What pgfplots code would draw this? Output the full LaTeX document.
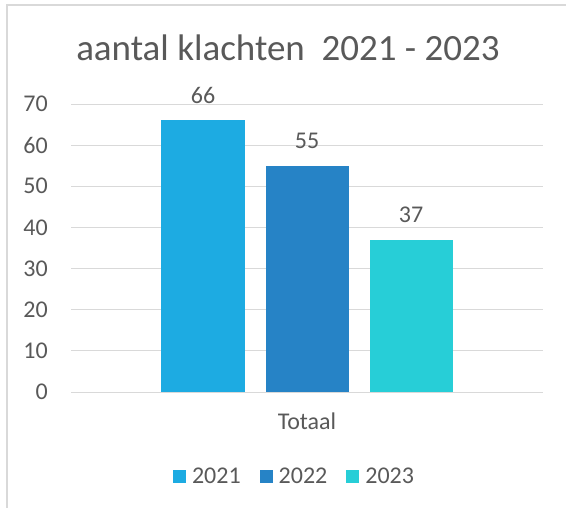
\documentclass[border=0pt]{standalone}
\usepackage{pgfplots}
\pgfplotsset{compat=1.18}
\usepackage{fontspec}
\setmainfont{Carlito}
\definecolor{cA}{HTML}{1DABE2}
\definecolor{cB}{HTML}{2683C6}
\definecolor{cC}{HTML}{27CED7}
\definecolor{txt}{HTML}{595959}
\definecolor{grd}{HTML}{D9D9D9}
\begin{document}
\begin{tikzpicture}
\path[use as bounding box] (0,0) rectangle (566bp,508bp);
\draw[grd, line width=1.5bp] (7bp,0) -- (7bp,503bp) -- (566bp,503bp);
\node[anchor=base, text=txt, inner sep=0pt, font=\fontsize{37bp}{44bp}\selectfont] at (288bp,447bp) {aantal klachten\ \ 2021 - 2023};
\begin{axis}[
  at={(71bp,116bp)}, anchor=south west,
  scale only axis, width=472bp, height=288bp,
  xmin=-1, xmax=1, ymin=0, ymax=70,
  ytick={0,10,...,70},
  xtick={0}, xticklabels={Totaal},
  axis line style={draw=none},
  major tick length=0pt,
  ymajorgrids, major grid style={grd, line width=0.9bp},
  /pgf/number format/assume math mode=true,
  tick label style={text=txt, font=\fontsize{24bp}{28bp}\selectfont, inner sep=0pt},
  yticklabel style={xshift=-23bp},
  xticklabel style={yshift=-21bp},
  ybar=21bp, bar width=83bp,
  nodes near coords,
  every node near coord/.append style={text=txt, font=\fontsize{24bp}{28bp}\selectfont, inner sep=0pt, anchor=south, yshift=17bp},
  legend columns=3,
  legend style={at={(0.4714,-0.2917)}, anchor=center, draw=none, fill=none, inner sep=0pt,
    font=\fontsize{24bp}{28bp}\selectfont, text=txt,
    nodes={inner sep=0pt},
    column sep=6bp,
    /tikz/every even column/.append style={column sep=19bp}},
  legend image code/.code={\fill[#1] (0bp,-6.5bp) rectangle (13bp,6.5bp);},
]
\addplot[fill=cA, draw=none] coordinates {(0,66)};
\addplot[fill=cB, draw=none] coordinates {(0,55)};
\addplot[fill=cC, draw=none] coordinates {(0,37)};
\legend{2021,2022,2023}
\end{axis}
\end{tikzpicture}
\end{document}
